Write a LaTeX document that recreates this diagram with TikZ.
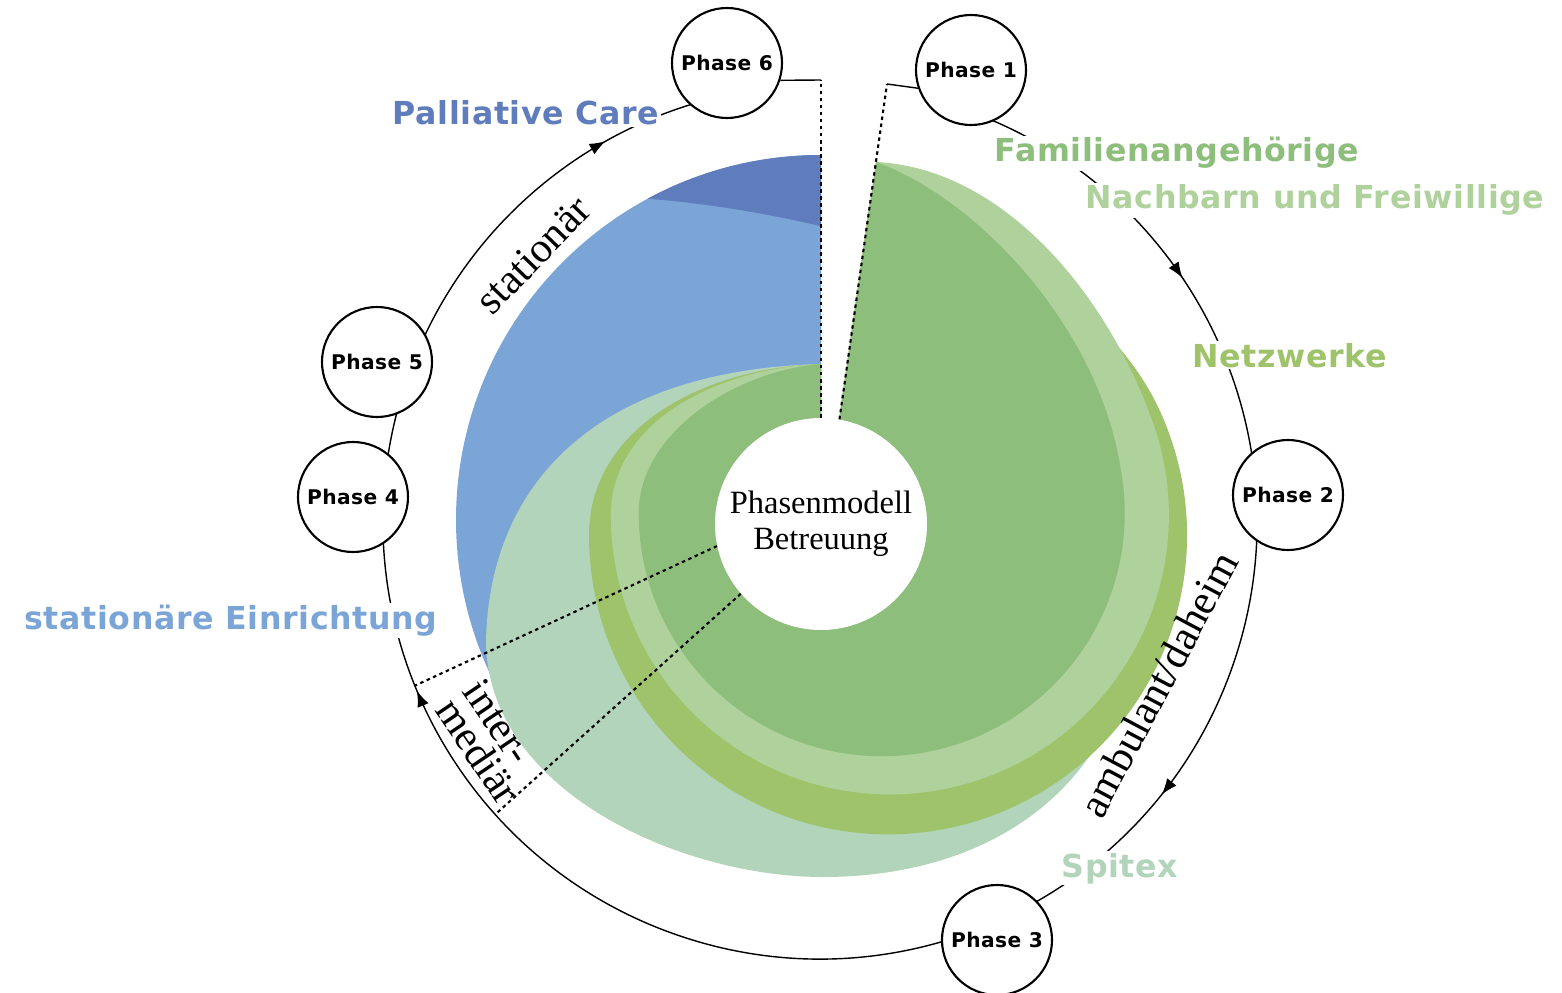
\documentclass[tikz,border=0pt]{standalone}
\usepackage{fontspec}
\setmainfont{Liberation Serif}
\newfontfamily\phasefont[LetterSpace=2]{DejaVu Sans}
\usetikzlibrary{arrows.meta}
\usetikzlibrary{decorations.markings}

\definecolor{palliblue}{RGB}{95,124,189}
\definecolor{statblue}{RGB}{124,165,215}
\definecolor{famgreen}{RGB}{141,190,124}
\definecolor{nachgreen}{RGB}{175,209,156}
\definecolor{netzgreen}{RGB}{159,195,107}
\definecolor{spitexgreen}{RGB}{177,212,186}

\begin{document}
\begin{tikzpicture}[x=0.2mm, y=0.2mm,
	phasenode/.style={circle, draw, line width=1.2pt, fill=white, minimum size=22mm, inner sep=0pt,
		font=\phasefont\bfseries\fontsize{11.5}{13}\selectfont},
	tag/.style={fill=white, inner sep=1pt, anchor=base, font=\phasefont\bfseries\fontsize{18}{20}\selectfont},
	ringline/.style={line width=0.8pt},
	dashline/.style={line width=1.2pt, dash pattern=on 2pt off 2pt},
	arclabel/.style={font=\fontsize{24}{19}\selectfont, inner sep=0pt}]
	\useasboundingbox (0,0) rectangle (1562,-993);
	\coordinate (C) at (820,-522);

	% stationaer
	\fill[statblue] (821,-520) -- (821,-155) arc[start angle=90, end angle=207, radius=365] -- cycle;
	\begin{scope}
		\clip (821,-520) -- (821,-155) arc[start angle=90, end angle=207, radius=365] -- cycle;
		\fill[palliblue] (540,-120) -- (540,-193) -- (600,-196) .. controls (674,-198.6) and (748,-208.9) .. (822,-226.5) -- (822,-120) -- cycle;
	\end{scope}

	% ambulant, from outside to inside
	\fill[spitexgreen] (821,-524) -- (1100,-740) .. controls (1040,-840) and (930,-877) .. (823,-877)
		.. controls (680,-877) and (486,-790) .. (486,-640)
		.. controls (490,-480) and (600,-370) .. (821,-364) -- cycle;
	\fill[netzgreen] (821,-420) -- (839,-420) -- (870,-200) .. controls (1000,-230) and (1117,-318) .. (1159,-409)
		arc[start angle=25, end angle=-180, radius=299]
		.. controls (589,-430) and (700,-368) .. (821,-364) -- cycle;
	\fill[nachgreen] (821,-420) -- (839,-420) -- (876,-162) .. controls (1000,-168) and (1104,-288) .. (1152,-420)
		arc[start angle=20, end angle=-180, radius=279]
		.. controls (611,-420) and (720,-368) .. (821,-364) -- cycle;
	\fill[famgreen] (821,-420) -- (839,-420) -- (876,-162) .. controls (980,-200) and (1100,-330) .. (1121,-471)
		arc[start angle=10, end angle=-180, radius=243]
		.. controls (639,-430) and (740,-370) .. (821,-364) -- cycle;

	\node[circle, fill=white, minimum size=42.4mm, inner sep=0pt, align=center,
		font=\fontsize{18.5}{20.5}\selectfont] (hub) at (821,-524) {Phasenmodell\\Betreuung};

	% ring of phases
	\draw[ringline, postaction={decorate}, decoration={markings,
		mark=at position 0.11 with {\arrow{Latex[length=3.2mm, width=2.4mm]}},
		mark=at position 0.331 with {\arrow{Latex[length=3.2mm, width=2.4mm]}},
		mark=at position 0.693 with {\arrow{Latex[length=3.2mm, width=2.4mm]}},
		mark=at position 0.947 with {\arrow{Latex[length=3.2mm, width=2.4mm]}}}]
		(C) ++(70:437) arc[start angle=70, end angle=-258, radius=437];

	\coordinate (gapL) at (821,-80);
	\coordinate (gapR) at (887,-84);
	\path (C) ++(202:437) coordinate (im1);
	\path (C) ++(222:437) coordinate (im2);
	\draw[dashline] (hub.90) -- (gapL);
	\draw[dashline] (hub.80) -- (gapR);
	\draw[dashline] (hub.192) -- (im1);
	\draw[dashline] (hub.221) -- (im2);

	\node[phasenode] (p1) at (971,-70) {Phase 1};
	\node[phasenode] (p2) at (1288,-495) {Phase 2};
	\node[phasenode] (p3) at (997,-940) {Phase 3};
	\node[phasenode] (p4) at (353,-497) {Phase 4};
	\node[phasenode] (p5) at (377,-362) {Phase 5};
	\node[phasenode] (p6) at (727,-63) {Phase 6};
	\draw[ringline] (p6.-18) -- (gapL);
	\draw[ringline] (p1.199) -- (gapR);

	\node[tag, text=palliblue] (pc) at (526,-125) {Palliative Care};
	\node[tag, text=famgreen] (fam) at (1177,-162) {Familienangehörige};
	\node[tag, text=nachgreen] (nach) at (1315,-209) {Nachbarn und Freiwillige};
	\node[tag, text=netzgreen] (netz) at (1290,-367) {Netzwerke};
	\node[tag, text=spitexgreen] (spx) at (1120,-877) {Spitex};
	\node[tag, text=statblue] (ein) at (231,-629) {stationäre Einrichtung};

	\node[arclabel, rotate=46] (stat) at (533,-255) {stationär};
	\node[arclabel, rotate=62] (amb) at (1158,-684) {ambulant/daheim};
	\node[arclabel, rotate=-56, align=left] (inter) at (492,-742) {inter-\\mediär};
\end{tikzpicture}
\end{document}
